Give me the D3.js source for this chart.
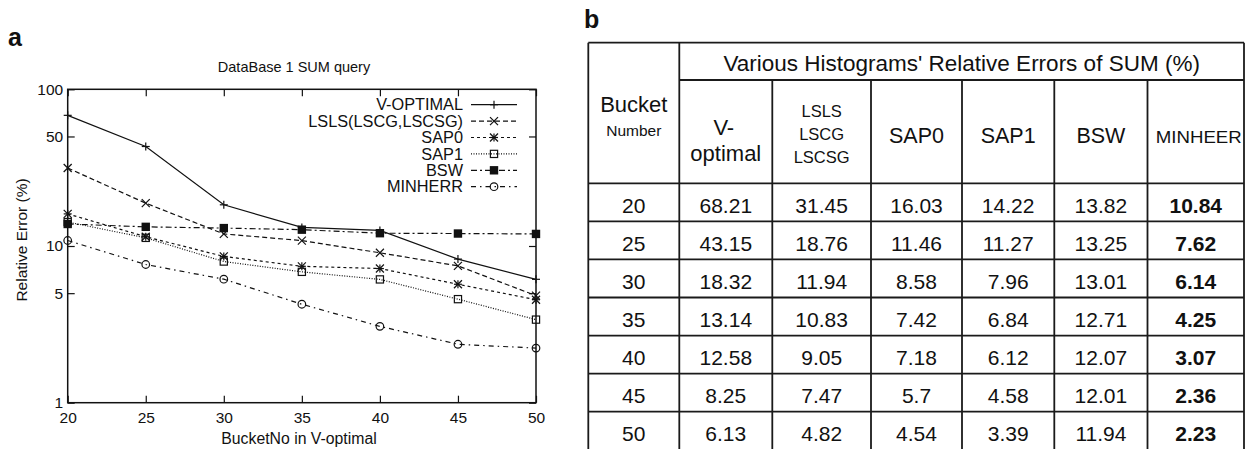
<!DOCTYPE html>
<html>
<head>
<meta charset="utf-8">
<script src="https://cdn.jsdelivr.net/npm/d3@7"></script>
<style>
  html, body { margin: 0; padding: 0; background: #fff; }
  svg { display: block; }
  text { font-family: "Liberation Sans", Arial, Helvetica, sans-serif; fill: #111; }
</style>
</head>
<body>
<svg id="chart" width="1251" height="449"></svg>
<script>
// ---------------- data ----------------
const bucketNumbers = [20, 25, 30, 35, 40, 45, 50];
const vOptimal = [68.21, 43.15, 18.32, 13.14, 12.58, 8.25, 6.13];
const lsls     = [31.45, 18.76, 11.94, 10.83, 9.05, 7.47, 4.82];
const sap0     = [16.03, 11.46, 8.58, 7.42, 7.18, 5.7, 4.54];
const sap1     = [14.22, 11.27, 7.96, 6.84, 6.12, 4.58, 3.39];
const bsw      = [13.82, 13.25, 13.01, 12.71, 12.07, 12.01, 11.94];
const minherr  = [10.84, 7.62, 6.14, 4.25, 3.07, 2.36, 2.23];

const legendNames = ["V-OPTIMAL", "LSLS(LSCG,LSCSG)", "SAP0", "SAP1", "BSW", "MINHERR"];
const yTickValues = [1, 5, 10, 50, 100];
const chartTitle = "DataBase 1 SUM query";
const xLabel = "BucketNo in V-optimal";
const yLabel = "Relative Error (%)";

const tableTitle = "Various Histograms' Relative Errors of SUM (%)";
const tableBoldColumn = 5;

// ---------------- styles (not data) ----------------
const seriesStyles = [
  { dash: null,        marker: "plus" },
  { dash: "5,3",       marker: "cross" },
  { dash: "3,3",       marker: "star" },
  { dash: "1,1.5",     marker: "square" },
  { dash: "6,3,2,3",   marker: "fsquare" },
  { dash: "5,4,1.5,4", marker: "circle" }
];
const seriesValues = [vOptimal, lsls, sap0, sap1, bsw, minherr];

const svg = d3.select("#chart");
const FONT = 15.5;

// ---------------- panel a ----------------
const plot = { left: 67.7, right: 536, top: 89.3, bottom: 402.7 };
const x = d3.scaleLinear().domain([20, 50]).range([plot.left, plot.right]);
const y = d3.scaleLog().domain([1, 100]).range([plot.bottom, plot.top]);

svg.append("text").attr("x", 8).attr("y", 46)
  .style("font-size", "25px").style("font-weight", "bold").text("a");

svg.append("text").attr("x", 294).attr("y", 72)
  .attr("text-anchor", "middle").style("font-size", "14.5px").text(chartTitle);

const tickLen = 7;
function styleAxis(g, showLabels) {
  g.select(".domain").remove();
  g.selectAll(".tick line").attr("stroke", "#111").attr("stroke-width", 1.2);
  g.selectAll(".tick text").style("font-size", FONT + "px")
    .style("font-family", "'Liberation Sans', Arial, sans-serif").attr("fill", "#111");
  if (!showLabels) g.selectAll(".tick text").remove();
}
svg.append("g").attr("transform", `translate(0,${plot.bottom})`)
  .call(d3.axisBottom(x).tickValues(bucketNumbers).tickFormat(d3.format("d"))
    .tickSizeInner(-tickLen).tickSizeOuter(0).tickPadding(9))
  .call(g => styleAxis(g, true));
svg.append("g").attr("transform", `translate(0,${plot.top})`)
  .call(d3.axisTop(x).tickValues(bucketNumbers).tickSizeInner(-tickLen).tickSizeOuter(0))
  .call(g => styleAxis(g, false));
svg.append("g").attr("transform", `translate(${plot.left},0)`)
  .call(d3.axisLeft(y).tickValues(yTickValues).tickFormat(d3.format("d"))
    .tickSizeInner(-tickLen).tickSizeOuter(0).tickPadding(4.5))
  .call(g => styleAxis(g, true));
svg.append("g").attr("transform", `translate(${plot.right},0)`)
  .call(d3.axisRight(y).tickValues(yTickValues).tickSizeInner(-tickLen).tickSizeOuter(0))
  .call(g => styleAxis(g, false));

svg.append("rect")
  .attr("x", plot.left).attr("y", plot.top)
  .attr("width", plot.right - plot.left).attr("height", plot.bottom - plot.top)
  .attr("fill", "none").attr("stroke", "#111").attr("stroke-width", 1.5);

svg.append("text").attr("x", 299).attr("y", 444)
  .attr("text-anchor", "middle").style("font-size", "15.8px").text(xLabel);
svg.append("text")
  .attr("transform", `translate(27,240) rotate(-90)`)
  .attr("text-anchor", "middle").style("font-size", FONT + "px").text(yLabel);

function drawMarker(g, type, cx, cy) {
  const s = 4;
  const ln = (x1, y1, x2, y2) => g.append("line").attr("x1", x1).attr("y1", y1)
    .attr("x2", x2).attr("y2", y2).attr("stroke", "#111").attr("stroke-width", 1.2);
  if (type === "plus" || type === "star") { ln(cx - s, cy, cx + s, cy); ln(cx, cy - s, cx, cy + s); }
  if (type === "cross" || type === "star") { ln(cx - s, cy - s, cx + s, cy + s); ln(cx - s, cy + s, cx + s, cy - s); }
  if (type === "square") g.append("rect").attr("x", cx - 3.6).attr("y", cy - 3.6)
    .attr("width", 7.2).attr("height", 7.2).attr("fill", "none").attr("stroke", "#111").attr("stroke-width", 1.2);
  if (type === "fsquare") g.append("rect").attr("x", cx - 4.2).attr("y", cy - 4.2)
    .attr("width", 8.4).attr("height", 8.4).attr("fill", "#111");
  if (type === "circle") g.append("circle").attr("cx", cx).attr("cy", cy).attr("r", 3.8)
    .attr("fill", "none").attr("stroke", "#111").attr("stroke-width", 1.2);
}

const line = d3.line().x((d, i) => x(bucketNumbers[i])).y(d => y(d));
const seriesG = svg.append("g");
seriesValues.forEach((vals, k) => {
  const st = seriesStyles[k];
  seriesG.append("path").datum(vals).attr("d", line)
    .attr("fill", "none").attr("stroke", "#111").attr("stroke-width", 1.2)
    .attr("stroke-dasharray", st.dash);
  vals.forEach((v, i) => drawMarker(seriesG, st.marker, x(bucketNumbers[i]), y(v)));
});

// legend
const legend = { textRight: 463, lineX1: 471, lineX2: 517, top: 104.7, step: 16.4 };
legendNames.forEach((name, k) => {
  const cy = legend.top + k * legend.step;
  const st = seriesStyles[k];
  svg.append("text").attr("x", legend.textRight).attr("y", cy + 5.7)
    .attr("text-anchor", "end").style("font-size", "16.3px").text(name);
  svg.append("line").attr("x1", legend.lineX1).attr("x2", legend.lineX2)
    .attr("y1", cy).attr("y2", cy).attr("stroke", "#111").attr("stroke-width", 1.2)
    .attr("stroke-dasharray", st.dash);
  drawMarker(svg, st.marker, (legend.lineX1 + legend.lineX2) / 2, cy);
});

// ---------------- panel b (table) ----------------
svg.append("text").attr("x", 584).attr("y", 28)
  .style("font-size", "25px").style("font-weight", "bold").text("b");

const colWidths = [91, 93, 98.7, 91, 92.3, 93.2, 96.5];
const tableLeft = 588.3;
const colEdges = [tableLeft];
colWidths.forEach(w => colEdges.push(colEdges[colEdges.length - 1] + w));
const colCenter = i => (colEdges[i] + colEdges[i + 1]) / 2;
const tTop = 42.7, tSplit = 80, tHeadBottom = 183.3;
const rowBand = d3.scaleBand().domain(bucketNumbers).range([tHeadBottom, tHeadBottom + 7 * 38.07]);

const tg = svg.append("g");
const tline = (x1, y1, x2, y2) => tg.append("line").attr("x1", x1).attr("y1", y1)
  .attr("x2", x2).attr("y2", y2).attr("stroke", "#1a1a1a").attr("stroke-width", 1.8);
const tBottom = rowBand.range()[1];
tline(colEdges[0], tTop, colEdges[7], tTop);
tline(colEdges[0], tTop, colEdges[0], tBottom);
tline(colEdges[7], tTop, colEdges[7], tBottom);
tline(colEdges[1], tTop, colEdges[1], tBottom);
tline(colEdges[1], tSplit, colEdges[7], tSplit);
for (let i = 2; i < 7; i++) tline(colEdges[i], tSplit, colEdges[i], tBottom);
tline(colEdges[0], tHeadBottom, colEdges[7], tHeadBottom);
bucketNumbers.forEach(b => tline(colEdges[0], rowBand(b) + rowBand.bandwidth(), colEdges[7], rowBand(b) + rowBand.bandwidth()));

const ttext = (xx, yy, s, size, bold) => tg.append("text").attr("x", xx).attr("y", yy)
  .attr("text-anchor", "middle").style("font-size", size + "px")
  .style("font-weight", bold ? "bold" : "normal").text(s);

ttext((colEdges[1] + colEdges[7]) / 2, 71, tableTitle, 22.5);
ttext(colCenter(0), 111.7, "Bucket", 22);
ttext(colCenter(0), 135.5, "Number", 15.5);
ttext(colCenter(1) - 2, 135, "V-", 22);
ttext(colCenter(1), 161, "optimal", 22);
ttext(colCenter(2), 116.7, "LSLS", 16.5);
ttext(colCenter(2), 140, "LSCG", 16.5);
ttext(colCenter(2), 163.3, "LSCSG", 16.5);
ttext(colCenter(3), 142.5, "SAP0", 21.5);
ttext(colCenter(4), 142.5, "SAP1", 21.5);
ttext(colCenter(5), 142.5, "BSW", 21.5);
ttext(colCenter(6) + 3, 142.5, "MINHEER", 17).attr("textLength", 86).attr("lengthAdjust", "spacingAndGlyphs");

bucketNumbers.forEach((b, r) => {
  const by = rowBand(b) + 29.5;
  ttext(colCenter(0), by, String(b), 21);
  seriesValues.forEach((vals, k) => {
    ttext(colCenter(k + 1), by, String(vals[r]), 21, k === tableBoldColumn);
  });
});
</script>
</body>
</html>
